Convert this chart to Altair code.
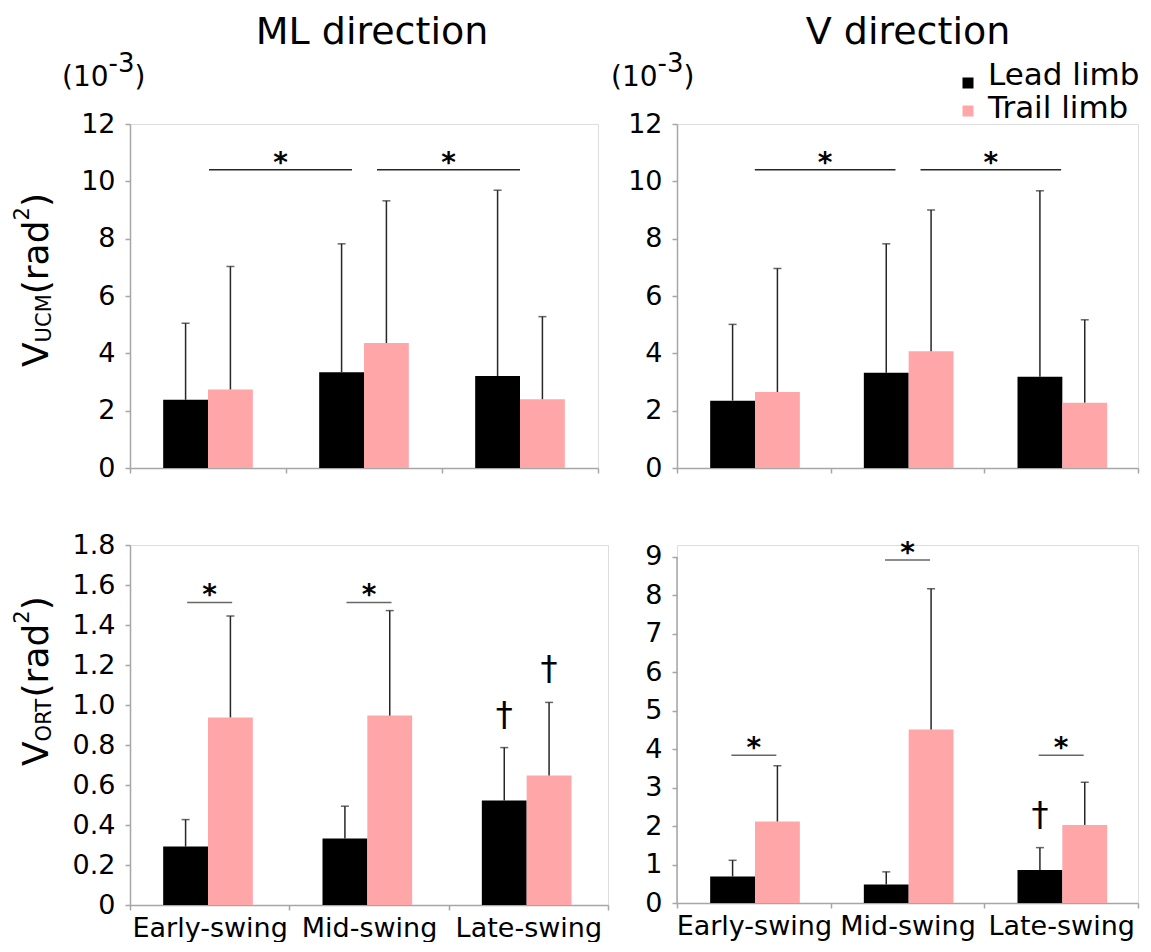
import altair as alt
import pandas as pd

FONT = "DejaVu Sans"
AXIS_GRAY = "#a6a6a6"
ERR = "#262626"
PINK = "#FFA6A9"

categories = ["Early-swing", "Mid-swing", "Late-swing"]
limbs = ["Lead limb", "Trail limb"]

# V_UCM, ML direction (x10^-3 rad^2): mean and SD
ml_ucm_lead = [2.38, 3.34, 3.21]
ml_ucm_lead_sd = [2.67, 4.48, 6.48]
ml_ucm_trail = [2.74, 4.36, 2.40]
ml_ucm_trail_sd = [4.29, 4.96, 2.88]

# V_UCM, V direction
v_ucm_lead = [2.35, 3.32, 3.18]
v_ucm_lead_sd = [2.66, 4.50, 6.49]
v_ucm_trail = [2.65, 4.07, 2.28]
v_ucm_trail_sd = [4.31, 4.93, 2.89]

# V_ORT, ML direction
ml_ort_lead = [0.292, 0.332, 0.522]
ml_ort_lead_sd = [0.135, 0.162, 0.265]
ml_ort_trail = [0.938, 0.947, 0.648]
ml_ort_trail_sd = [0.507, 0.525, 0.365]

# V_ORT, V direction
v_ort_lead = [0.69, 0.48, 0.86]
v_ort_lead_sd = [0.42, 0.33, 0.58]
v_ort_trail = [2.12, 4.51, 2.03]
v_ort_trail_sd = [1.45, 3.66, 1.11]

ucm_ticks = [0, 2, 4, 6, 8, 10, 12]
ml_ort_ticks = [0, 0.2, 0.4, 0.6, 0.8, 1.0, 1.2, 1.4, 1.6, 1.8]
v_ort_ticks = [0, 1, 2, 3, 4, 5, 6, 7, 8, 9]

# significance marks
ucm_sig_from = ["Early-swing", "Mid-swing"]
ucm_sig_to = ["Mid-swing", "Late-swing"]
ucm_sig_level = [10.4, 10.4]
ml_ort_sig_cats = ["Early-swing", "Mid-swing"]
ml_ort_sig_level = [1.513, 1.513]
v_ort_sig_cats = ["Early-swing", "Mid-swing", "Late-swing"]
v_ort_sig_level = [3.84, 8.92, 3.84]
ml_ort_dagger_cats = ["Late-swing", "Late-swing"]
ml_ort_dagger_limbs = ["Lead limb", "Trail limb"]
v_ort_dagger_cats = ["Late-swing"]
v_ort_dagger_limbs = ["Lead limb"]

ADV = {"V": .684, "U": .732, "C": .698, "M": .863, "O": .787, "R": .695, "T": .611,
       "(": .390, ")": .390, "r": .411, "a": .613, "d": .635, "2": .636, "1": .636,
       "0": .636, "-": .361, "3": .636}


def tw(s, size):
    return sum(ADV.get(ch, 0.6) for ch in s) * size


ONE = pd.DataFrame({"k": [0]})


def txt(s, x, y, size, angle=0, align="left", baseline="alphabetic", bold=False):
    kw = dict(text=s, fontSize=size, align=align, baseline=baseline, font=FONT,
              color="black", fontWeight="bold" if bold else "normal")
    if angle:
        kw["angle"] = angle
    return alt.Chart(ONE).mark_text(**kw).encode(x=alt.value(x), y=alt.value(y))


def y_title(sub, x, ybottom, big=36, small=21):
    parts = []
    y = ybottom
    parts.append(txt("V", x, y, big, angle=270)); y -= tw("V", big)
    parts.append(txt(sub, x + 3, y, small, angle=270)); y -= tw(sub, small)
    parts.append(txt("(rad", x, y, big, angle=270)); y -= tw("(rad", big)
    parts.append(txt("2", x - 19, y, small, angle=270)); y -= tw("2", small)
    parts.append(txt(")", x, y, big, angle=270))
    return parts


def exp_label(x, y, big=28, small=26):
    p1 = txt("(10", x, y, big)
    x2 = x + tw("(10", big)
    p2 = txt("-3", x2, y - 14, small)
    x3 = x2 + tw("-3", small)
    p3 = txt(")", x3, y, big)
    return [p1, p2, p3]


def legend_marks(x, y):
    out = []
    colors = ["#000000", PINK]
    sq_shift = [7, 2]
    for i, name in enumerate(limbs):
        yy = y + 33 * i
        out.append(alt.Chart(ONE).mark_square(size=121, color=colors[i], opacity=1).encode(
            x=alt.value(x), y=alt.value(yy + sq_shift[i])))
        out.append(txt(name, x + 20, yy, 31, baseline="middle"))
    return out


def make_df(lead, lead_sd, trail, trail_sd):
    rows = []
    for i, c in enumerate(categories):
        rows.append(dict(category=c, limb=limbs[0], mean=lead[i], upper=lead[i] + lead_sd[i]))
        rows.append(dict(category=c, limb=limbs[1], mean=trail[i], upper=trail[i] + trail_sd[i]))
    return pd.DataFrame(rows)


def panel(df, width, height, ydomain, yticks, bottom, label_expr=None, manual_top=None,
          sig_between=None, sig_within=None, daggers=None, extras=()):
    xs = alt.Scale(domain=categories, paddingInner=0, paddingOuter=0)
    xaxis = alt.Axis(labels=bottom, title=None, tickBand="extent", ticks=True, tickSize=5,
                     domainColor=AXIS_GRAY, tickColor=AXIS_GRAY, domainWidth=1.5, tickWidth=1.5,
                     labelFontSize=27, labelFont=FONT, labelColor="black", labelPadding=5,
                     labelAngle=0, grid=False)

    def X(field, **kw):
        return alt.X(f"{field}:N", scale=xs, axis=xaxis, title=None, **kw)

    xo = alt.XOffset("limb:N", scale=alt.Scale(domain=limbs, paddingInner=0, paddingOuter=0.74))
    ys = alt.Scale(domain=ydomain, nice=False, zero=False)
    yax = dict(values=yticks, grid=False, domain=manual_top is None, tickSize=5,
               domainColor=AXIS_GRAY, tickColor=AXIS_GRAY, domainWidth=1.5, tickWidth=1.5,
               labelFontSize=27, labelFont=FONT, labelColor="black", labelPadding=10, title=None)
    if label_expr:
        yax["labelExpr"] = label_expr
    yaxis = alt.Axis(**yax)

    def Y(field):
        return alt.Y(f"{field}:Q", scale=ys, axis=yaxis, title=None)

    base = alt.Chart(df)
    bars = base.mark_bar().encode(
        x=X("category"), xOffset=xo, y=Y("mean"),
        color=alt.Color("limb:N", scale=alt.Scale(domain=limbs, range=["#000000", PINK]),
                        legend=None))
    stems = base.mark_rule(color=ERR, strokeWidth=1.5).encode(
        x=X("category"), xOffset=xo, y=Y("mean"), y2="upper:Q")
    caps = base.mark_tick(color=ERR, thickness=1.5, size=8, orient="horizontal").encode(
        x=X("category"), xOffset=xo, y=Y("upper"))
    layers = [bars, stems, caps]

    if manual_top is not None:
        layers.append(alt.Chart(ONE).mark_rule(color=AXIS_GRAY, strokeWidth=1.5).encode(
            x=alt.value(0), y=alt.datum(0, scale=ys, axis=yaxis), y2=alt.datum(manual_top)))

    if sig_between is not None:
        sdf = pd.DataFrame({"c1": sig_between[0], "c2": sig_between[1], "y": sig_between[2]})
        offs = [(1, -12), (13, 0)]
        for i in range(len(sdf)):
            one = sdf.iloc[[i]]
            a, b = offs[i]
            layers.append(alt.Chart(one).mark_rule(color=ERR, strokeWidth=1.5, xOffset=a, x2Offset=b).encode(
                x=X("c1"), x2=alt.X2("c2"), y=Y("y")))
            layers.append(alt.Chart(one).mark_text(text="*", fontSize=28, fontWeight="bold", font=FONT,
                                                   baseline="alphabetic", dy=2, dx=(a + b) / 2,
                                                   color="black").encode(
                x=X("c1", bandPosition=1), y=Y("y")))

    if sig_within is not None:
        wdf = pd.DataFrame({"cat": sig_within[0], "y": sig_within[1]})
        layers.append(alt.Chart(wdf).mark_tick(color=ERR, thickness=1.5, size=45, orient="horizontal").encode(
            x=X("cat"), y=Y("y")))
        layers.append(alt.Chart(wdf).mark_text(text="*", fontSize=28, fontWeight="bold", font=FONT,
                                               baseline="alphabetic", dy=2, color="black").encode(
            x=X("cat"), y=Y("y")))

    if daggers is not None:
        dd = df.merge(pd.DataFrame({"category": daggers[0], "limb": daggers[1]}))
        layers.append(alt.Chart(dd).mark_text(text="\u2020", fontSize=34, font=FONT,
                                              baseline="alphabetic", dy=-22, color="black").encode(
            x=X("category"), xOffset=xo, y=Y("upper")))

    layers.extend(extras)
    return alt.layer(*layers).properties(width=width, height=height)


tl = panel(make_df(ml_ucm_lead, ml_ucm_lead_sd, ml_ucm_trail, ml_ucm_trail_sd), 468, 344,
           [0, 12], ucm_ticks, False,
           sig_between=(ucm_sig_from, ucm_sig_to, ucm_sig_level),
           extras=[txt("ML direction", 242, -110, 38, align="center", baseline="top")]
           + exp_label(-68, -38) + y_title("UCM", -82, 243))

tr = panel(make_df(v_ucm_lead, v_ucm_lead_sd, v_ucm_trail, v_ucm_trail_sd), 461, 344,
           [0, 12], ucm_ticks, False,
           sig_between=(ucm_sig_from, ucm_sig_to, ucm_sig_level),
           extras=[txt("V direction", 231, -110, 38, align="center", baseline="top")]
           + exp_label(-66, -38) + legend_marks(291, -48))

bl = panel(make_df(ml_ort_lead, ml_ort_lead_sd, ml_ort_trail, ml_ort_trail_sd), 478, 360,
           [0, 1.8], ml_ort_ticks, True,
           label_expr="datum.value == 0 ? '0' : format(datum.value, '.1f')",
           sig_within=(ml_ort_sig_cats, ml_ort_sig_level),
           daggers=(ml_ort_dagger_cats, ml_ort_dagger_limbs),
           extras=y_title("ORT", -82, 221))

br = panel(make_df(v_ort_lead, v_ort_lead_sd, v_ort_trail, v_ort_trail_sd), 461, 358,
           [0, 9.31], v_ort_ticks, True, manual_top=9,
           sig_within=(v_ort_sig_cats, v_ort_sig_level),
           daggers=(v_ort_dagger_cats, v_ort_dagger_limbs))

chart = alt.concat(tl, tr, bl, br, columns=2, spacing={"row": 48, "column": 0}, align="each",
                   padding={"left": 3, "top": 5, "right": 0, "bottom": 0}
                   ).configure_view(stroke=None).configure(background="white")

chart.save("out.html", embed_options={"renderer": "svg", "actions": False})
